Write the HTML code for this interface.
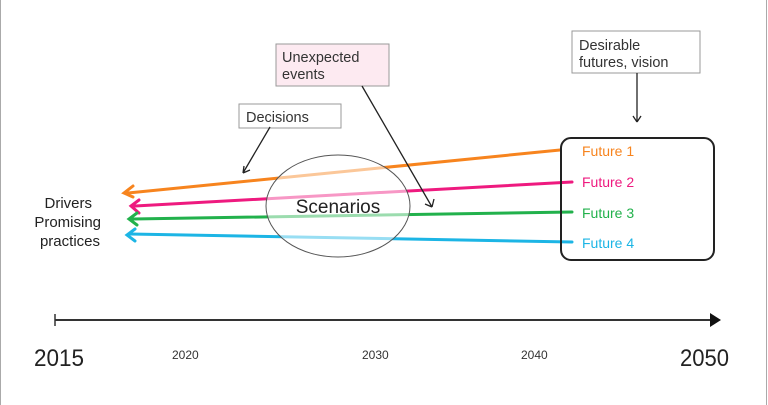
<!DOCTYPE html>
<html><head><style>
html,body{margin:0;padding:0;background:#fff;}
svg{display:block;font-family:"Liberation Sans",Arial,sans-serif;}
</style></head><body>
<svg width="768" height="405" viewBox="0 0 768 405" xmlns="http://www.w3.org/2000/svg">
<rect x="0.5" y="-1" width="766" height="407" fill="#fff" stroke="#aaa" stroke-width="1"/>
<g stroke-width="3" fill="none" stroke-linecap="round">
<path d="M128 193 L560 150" stroke="#f7841e"/>
<path d="M135 206 L572 182" stroke="#ee1a7f"/>
<path d="M133 219 L572 212" stroke="#22b14c"/>
<path d="M130 234 L572 242" stroke="#1cb5e5"/>
<path d="M133 186 L124 193 L133 197" stroke="#f7841e"/>
<path d="M139 200 L131 206 L139 213" stroke="#ee1a7f"/>
<path d="M137 213 L129 219 L137 225" stroke="#22b14c"/>
<path d="M135 229 L127 235 L135 241" stroke="#1cb5e5"/>
</g>
<ellipse cx="338" cy="206" rx="72" ry="51" fill="rgba(255,255,255,0.55)" stroke="#555" stroke-width="1"/>
<text x="338" y="213" font-size="19" text-anchor="middle" fill="#222">Scenarios</text>
<rect x="276" y="44" width="113" height="42" fill="#fdeaf1" stroke="#999"/>
<text x="282" y="62" font-size="14.5" fill="#333">Unexpected</text>
<text x="282" y="79" font-size="14.5" fill="#333">events</text>
<rect x="239" y="104" width="102" height="24" fill="#fff" stroke="#999"/>
<text x="246" y="122" font-size="14.5" fill="#333">Decisions</text>
<rect x="572" y="31" width="128" height="42" fill="#fff" stroke="#999"/>
<text x="579" y="50" font-size="14.5" fill="#333">Desirable</text>
<text x="579" y="67" font-size="14.5" fill="#333">futures, vision</text>
<rect x="561" y="138" width="153" height="122" rx="10" fill="none" stroke="#222" stroke-width="2"/>
<g stroke="#222" stroke-width="1.3" fill="none">
<path d="M270 127 L243 173 M243 173 L244 166 M243 173 L250 170"/>
<path d="M362 86 L432 207 M432 207 L425 204 M432 207 L434 199"/>
<path d="M637 73 L637 122 M637 122 L633 116 M637 122 L641 116"/>
</g>
<g font-size="14">
<text x="582" y="156" fill="#f7841e">Future 1</text>
<text x="582" y="187" fill="#ee1a7f">Future 2</text>
<text x="582" y="218" fill="#22b14c">Future 3</text>
<text x="582" y="248" fill="#1cb5e5">Future 4</text>
</g>
<g font-size="15" fill="#222" text-anchor="end">
<text x="92" y="208">Drivers</text>
<text x="101" y="227">Promising</text>
<text x="100" y="246">practices</text>
</g>
<line x1="55" y1="320" x2="712" y2="320" stroke="#333" stroke-width="2"/>
<line x1="55" y1="314" x2="55" y2="326" stroke="#333" stroke-width="1.5"/>
<path d="M710 313 L721 320 L710 327 Z" fill="#111"/>
<text x="34" y="366" font-size="24" fill="#222" textLength="50" lengthAdjust="spacingAndGlyphs">2015</text>
<text x="680" y="366" font-size="24" fill="#222" textLength="49" lengthAdjust="spacingAndGlyphs">2050</text>
<g font-size="12" fill="#333">
<text x="172" y="359">2020</text>
<text x="362" y="359">2030</text>
<text x="521" y="359">2040</text>
</g>
</svg>
</body></html>
